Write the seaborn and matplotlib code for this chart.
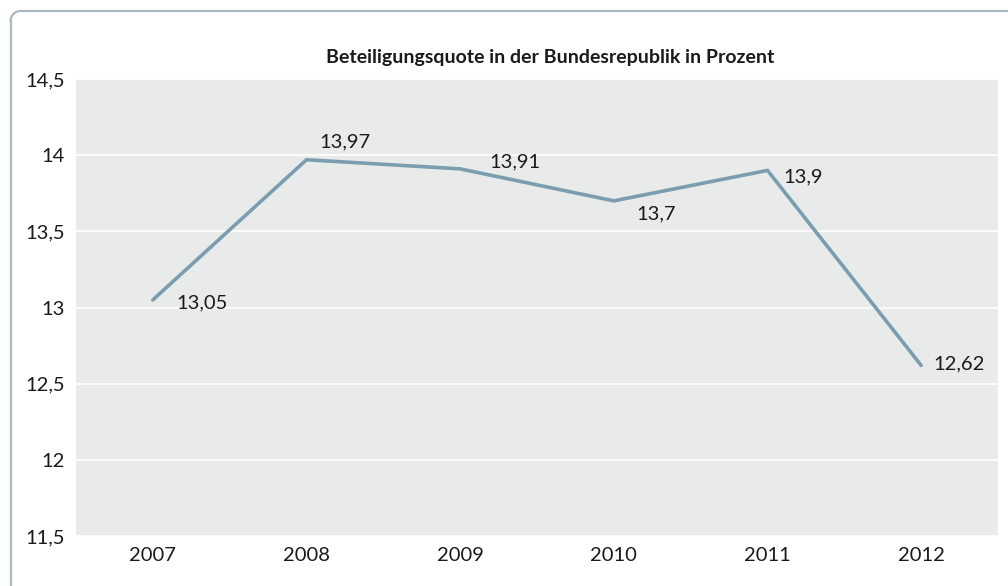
import seaborn as sns
import matplotlib.pyplot as plt
from matplotlib.lines import Line2D
from matplotlib.patches import Arc
import pandas as pd

# data
years = ['2007', '2008', '2009', '2010', '2011', '2012']
quote = [13.05, 13.97, 13.91, 13.70, 13.90, 12.62]
labels = ['13,05', '13,97', '13,91', '13,7', '13,9', '12,62']
y_ticks = [11.5, 12, 12.5, 13, 13.5, 14, 14.5]
y_ticklabels = ['11,5', '12', '12,5', '13', '13,5', '14', '14,5']

df = pd.DataFrame({'jahr': years, 'quote': quote})

sns.set_theme(style='white')
plt.rcParams['font.family'] = ['Lato', 'DejaVu Sans']

fig = plt.figure(figsize=(10.08, 5.86), dpi=100)
ax = fig.add_axes([76/1008, 1 - 536/586, (998-76)/1008, (536-79)/586])

# rounded frame: left edge, top-left corner, top edge (inches)
x0, top, r = 0.105, 5.75, 0.10
frame_kw = dict(color='#a9b9c2', linewidth=1.6, transform=fig.dpi_scale_trans)
fig.add_artist(Line2D([x0, x0], [0, top - r], **frame_kw))
fig.add_artist(Line2D([x0 + r, 10.08], [top, top], **frame_kw))
fig.add_artist(Arc((x0 + r, top - r), 2 * r, 2 * r, theta1=90, theta2=180,
                   edgecolor='#a9b9c2', linewidth=1.6,
                   transform=fig.dpi_scale_trans))

ax.set_facecolor('#e9ebea')
sns.lineplot(data=df, x='jahr', y='quote', ax=ax, color='#7a9eb0',
             linewidth=2.6, sort=False)

ax.set_xlim(-0.5, 5.5)
ax.set_ylim(11.5, 14.5)
ax.set_yticks(y_ticks)
ax.set_yticklabels(y_ticklabels)
ax.yaxis.grid(True, color='white', linewidth=1.2)
ax.set_axisbelow(True)
for s in ax.spines.values():
    s.set_visible(False)
ax.tick_params(axis='both', length=0, labelsize=14.5, colors='#1a1a1a')
ax.tick_params(axis='y', pad=8)
ax.tick_params(axis='x', pad=8)
ax.set_xlabel('')
ax.set_ylabel('')

# value labels beside the points (offsets in pixels)
offsets = [(24, -3), (13, 18), (29, 7), (23, -13), (16, -6), (12, 2)]
for i, (v, lab) in enumerate(zip(quote, labels)):
    ax.annotate(lab, (i, v), xytext=offsets[i], textcoords='offset pixels',
                ha='left', va='center', fontsize=14.5, color='#1a1a1a')

fig.text(550/1008, 1 - 58/586, 'Beteiligungsquote in der Bundesrepublik in Prozent',
         ha='center', va='center', fontsize=14, fontweight='bold', color='#1a1a1a')

fig.savefig('out.png', dpi=100)
